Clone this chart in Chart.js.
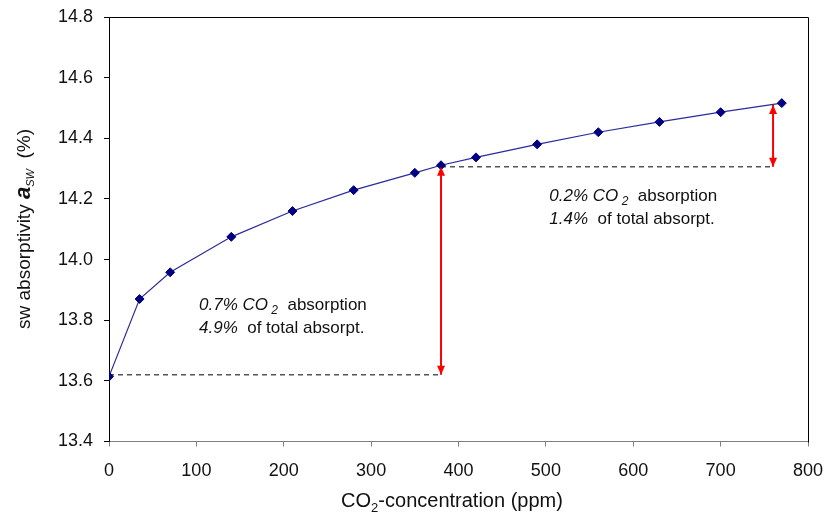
<!DOCTYPE html>
<html><head><meta charset="utf-8">
<script src="https://cdn.jsdelivr.net/npm/chart.js@4/dist/chart.umd.min.js"></script>
<style>html,body{margin:0;padding:0;background:#fff}#wrap{width:827px;height:516px}</style>
</head><body><div id="wrap"><canvas id="c" width="827" height="516"></canvas></div>
<script>
// ---- data ----
const co2ppm = [0, 35, 70, 140, 210, 280, 350, 380, 420, 490, 560, 630, 700, 770];
const absorptivity = [13.614, 13.870, 13.958, 14.075, 14.160, 14.229, 14.286, 14.311, 14.337, 14.380, 14.420, 14.454, 14.486, 14.516];
const xTickValues = [0, 100, 200, 300, 400, 500, 600, 700, 800];
const yTickValues = [13.4, 13.6, 13.8, 14.0, 14.2, 14.4, 14.6, 14.8];
const refLowX = [0, 380];   const refLowY = [13.62, 13.62];
const refHighX = [380, 760]; const refHighY = [14.306, 14.306];
const arrowLowX = [380, 380]; const arrowLowY = [13.62, 14.306];
const arrowHighX = [760, 760]; const arrowHighY = [14.306, 14.51];
const noteLowAnchor = [103, 13.834];
const noteHighAnchor = [504, 14.194];
const noteLowValues = ["0.7%", "4.9%"];
const noteHighValues = ["0.2%", "1.4%"];

const pts = (xs, ys) => xs.map((x, i) => ({x, y: ys[i]}));
const FONT = "Arial, 'Liberation Sans', sans-serif";

function richWidth(ctx, segs) {
  let w = 0;
  for (const s of segs) { ctx.font = s.font; w += ctx.measureText(s.t).width; }
  return w;
}
function drawRich(ctx, x, y, segs) {
  let cx = x;
  for (const s of segs) {
    ctx.font = s.font;
    ctx.fillText(s.t, cx, y + (s.dy || 0));
    cx += ctx.measureText(s.t).width;
  }
}
function noteSegs(val, val2) {
  return [
    [{t: val + " ", font: "italic 17px " + FONT}, {t: "CO", font: "italic 17px " + FONT},
     {t: " 2", font: "italic 12px " + FONT, dy: 4}, {t: "  absorption", font: "17px " + FONT}],
    [{t: val2 + "  ", font: "italic 17px " + FONT}, {t: "of total absorpt.", font: "17px " + FONT}]
  ];
}

const extras = {
  id: 'extras',
  afterDatasetsDraw(chart) {
    const ctx = chart.ctx, a = chart.chartArea, xs = chart.scales.x, ys = chart.scales.y;
    ctx.save();
    // top & right frame
    ctx.strokeStyle = '#000'; ctx.lineWidth = 1;
    ctx.beginPath();
    ctx.moveTo(Math.round(a.left) + 0.5, Math.round(a.top) + 0.5);
    ctx.lineTo(Math.round(a.right) + 0.5, Math.round(a.top) + 0.5);
    ctx.lineTo(Math.round(a.right) + 0.5, Math.round(a.bottom) + 0.5);
    ctx.stroke();
    // arrowheads
    ctx.fillStyle = '#ff0000';
    const head = (px, py, dir) => {
      ctx.beginPath();
      ctx.moveTo(px, py);
      ctx.lineTo(px - 4, py - dir * 9);
      ctx.lineTo(px + 4, py - dir * 9);
      ctx.closePath(); ctx.fill();
    };
    [[arrowLowX, arrowLowY], [arrowHighX, arrowHighY]].forEach(([ax, ay]) => {
      const x = xs.getPixelForValue(ax[0]);
      const yb = ys.getPixelForValue(ay[0]);
      const yt = ys.getPixelForValue(ay[1]);
      head(x, yb, 1);
      head(x, yt, -1);
    });
    // notes
    ctx.fillStyle = '#111'; ctx.textBaseline = 'alphabetic'; ctx.textAlign = 'left';
    [[noteLowAnchor, noteLowValues], [noteHighAnchor, noteHighValues]].forEach(([anc, vals]) => {
      const x = xs.getPixelForValue(anc[0]);
      const y = ys.getPixelForValue(anc[1]);
      const lines = noteSegs(vals[0], vals[1]);
      drawRich(ctx, x, y, lines[0]);
      drawRich(ctx, x, y + 23, lines[1]);
    });
    ctx.restore();
  },
  afterDraw(chart) {
    const ctx = chart.ctx;
    ctx.save();
    ctx.fillStyle = '#111'; ctx.textBaseline = 'alphabetic'; ctx.textAlign = 'left';
    // x title
    const xsegs = [{t: "CO", font: "20px " + FONT}, {t: "2", font: "13px " + FONT, dy: 5},
                   {t: "-concentration (ppm)", font: "20px " + FONT}];
    const xw = richWidth(ctx, xsegs);
    drawRich(ctx, 452 - xw / 2, 507, xsegs);
    // y title
    const ysegs = [{t: "sw absorptivity ", font: "19px " + FONT},
                   {t: "a", font: "bold italic 22px " + FONT},
                   {t: "SW", font: "italic 11px " + FONT, dy: 4},
                   {t: "  (%)", font: "19px " + FONT}];
    const yw = richWidth(ctx, ysegs);
    ctx.translate(30, 229);
    ctx.rotate(-Math.PI / 2);
    drawRich(ctx, -yw / 2, 0, ysegs);
    ctx.restore();
  }
};

const noPad = s => { s.paddingLeft = 0; s.paddingRight = 0; s.paddingTop = 0; s.paddingBottom = 0; };

new Chart(document.getElementById('c'), {
  type: 'line',
  data: {
    datasets: [
      {data: pts(co2ppm, absorptivity), borderColor: '#2b2b9c', borderWidth: 1.2,
       pointStyle: 'rectRot', pointRadius: 4.5, pointBackgroundColor: '#000080', pointBorderColor: '#000080',
       pointBorderWidth: 1, tension: 0},
      {data: pts(refLowX, refLowY), borderColor: '#555', borderWidth: 1.5, borderDash: [5, 4], pointRadius: 0},
      {data: pts(refHighX, refHighY), borderColor: '#555', borderWidth: 1.5, borderDash: [5, 4], pointRadius: 0},
      {data: pts(arrowLowX, arrowLowY), borderColor: '#ff0000', borderWidth: 2, pointRadius: 0},
      {data: pts(arrowHighX, arrowHighY), borderColor: '#ff0000', borderWidth: 2, pointRadius: 0}
    ]
  },
  options: {
    responsive: false, devicePixelRatio: 1, animation: false,
    layout: {padding: {left: 0, right: 19, top: 17, bottom: 14.5}},
    plugins: {legend: {display: false}, tooltip: {enabled: false}},
    scales: {
      x: {
        type: 'linear', min: 0, max: 800,
        afterBuildTicks: s => { s.ticks = xTickValues.map(v => ({value: v})); },
        afterFit: s => { s.height = 60; noPad(s); },
        grid: {drawOnChartArea: false, tickLength: 5, color: '#808080'},
        border: {color: '#808080', width: 1},
        ticks: {font: {family: FONT, size: 18}, color: '#111', padding: 14, maxRotation: 0}
      },
      y: {
        type: 'linear', min: 13.4, max: 14.8,
        afterBuildTicks: s => { s.ticks = yTickValues.map(v => ({value: v})); },
        afterFit: s => { s.width = 109; noPad(s); },
        grid: {drawOnChartArea: false, tickLength: 5, color: '#000'},
        border: {color: '#000', width: 1},
        ticks: {font: {family: FONT, size: 18}, color: '#111', padding: 11,
                callback: v => Number(v).toFixed(1)}
      }
    }
  },
  plugins: [extras]
});
</script>
</body></html>
